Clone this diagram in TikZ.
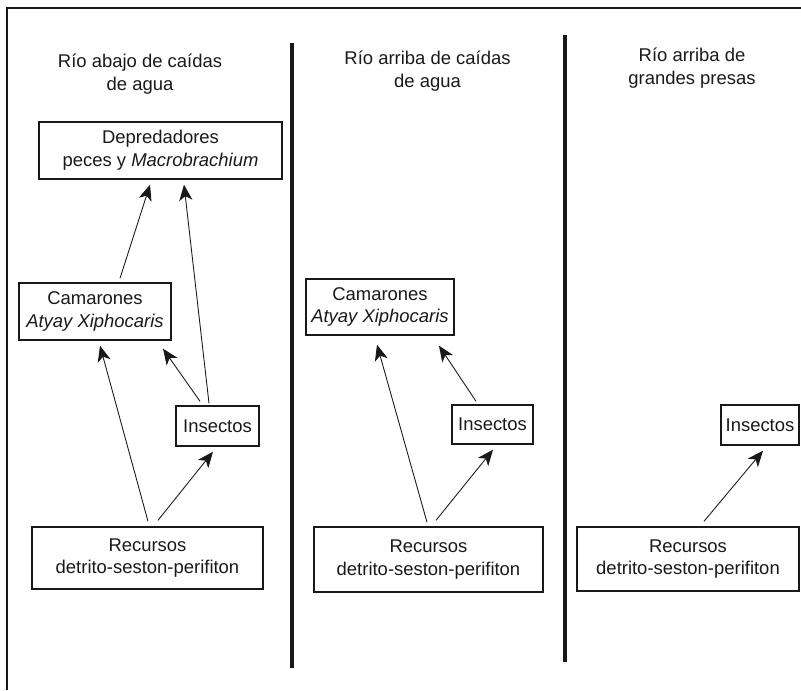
\documentclass[tikz,border=0pt]{standalone}
\usepackage{fontspec}
\setmainfont{Liberation Sans}
\usetikzlibrary{arrows.meta,calc}
\tikzset{every node/.append style={font=\fontsize{10.5}{13}\selectfont,text=black!90}}
\tikzset{caja/.style={draw=black!90,line width=0.8pt,align=center,inner sep=0pt}}
\tikzset{titulo/.style={align=center}}
\tikzset{flecha/.style={-{Stealth[length=9pt,width=7.5pt,inset=2.5pt]},line width=0.5pt,black!90}}
\tikzset{division/.style={line width=1.8pt,black!90}}

\begin{document}
\begin{tikzpicture}[x=0.02cm,y=-0.02cm]
	\useasboundingbox (0,0) rectangle (801,690);
	% marco y divisiones
	\draw[line width=1pt,black!90] (7,690) -- (7,8) -- (801,8);
	\draw[division] (292,43) -- (292,668);
	\draw[division] (565,35) -- (565,662);
	% titulos
	\node[titulo] (tit1) at (140,74) {Río abajo de caídas\\de agua};
	\node[titulo] (tit2) at (427.5,71.5) {Río arriba de caídas\\de agua};
	\node[titulo] (tit3) at (692,68.5) {Río arriba de\\grandes presas};
	% columna 1
	\node[caja,minimum width=4.86cm,minimum height=1.14cm] (dep1) at (160.5,150.5) {Depredadores\\peces y \textit{Macrobrachium}};
	\node[caja,minimum width=3.04cm,minimum height=1.14cm] (cam1) at (95,311.5) {Camarones\\\textit{Atyay Xiphocaris}};
	\node[caja,minimum width=1.66cm,minimum height=0.8cm] (ins1) at (217.5,426) {Insectos};
	\node[caja,minimum width=4.62cm,minimum height=1.24cm] (rec1) at (147.5,558) {Recursos\\detrito-seston-perifiton};
	% columna 2
	\node[caja,minimum width=2.96cm,minimum height=1.12cm] (cam2) at (380,307) {Camarones\\\textit{Atyay Xiphocaris}};
	\node[caja,minimum width=1.62cm,minimum height=0.78cm] (ins2) at (492.5,424.5) {Insectos};
	\node[caja,minimum width=4.58cm,minimum height=1.3cm] (rec2) at (428.5,559.5) {Recursos\\detrito-seston-perifiton};
	% columna 3
	\node[caja,minimum width=1.56cm,minimum height=0.8cm] (ins3) at (760,425) {Insectos};
	\node[caja,minimum width=4.44cm,minimum height=1.28cm] (rec3) at (688,559) {Recursos\\detrito-seston-perifiton};
	% flechas
	\draw[flecha] ($(rec1.north)+(0.5,-5)$) -- ($(cam1.south)+(5,5)$);
	\draw[flecha] ($(rec1.north)+(10.5,-6)$) -- ($(ins1.south)+(-4.5,5)$);
	\draw[flecha] ($(ins1.north)+(-17.5,-4)$) -- ($(cam1.south)+(68,8)$);
	\draw[flecha] ($(ins1.north)+(-8.5,-2)$) -- ($(dep1.south)+(23.5,5)$);
	\draw[flecha] ($(cam1.north)+(25,-4)$) -- ($(dep1.south)+(-10.5,5)$);
	\draw[flecha] ($(rec2.north)+(-1.5,-4)$) -- ($(cam2.south)+(-3,9)$);
	\draw[flecha] ($(rec2.north)+(7.5,-6)$) -- ($(ins2.south)+(0.5,5)$);
	\draw[flecha] ($(ins2.north)+(-16.5,-3)$) -- ($(cam2.south)+(59,10)$);
	\draw[flecha] ($(rec3.north)+(16,-5)$) -- ($(ins3.south)+(3,5)$);
\end{tikzpicture}
\end{document}
